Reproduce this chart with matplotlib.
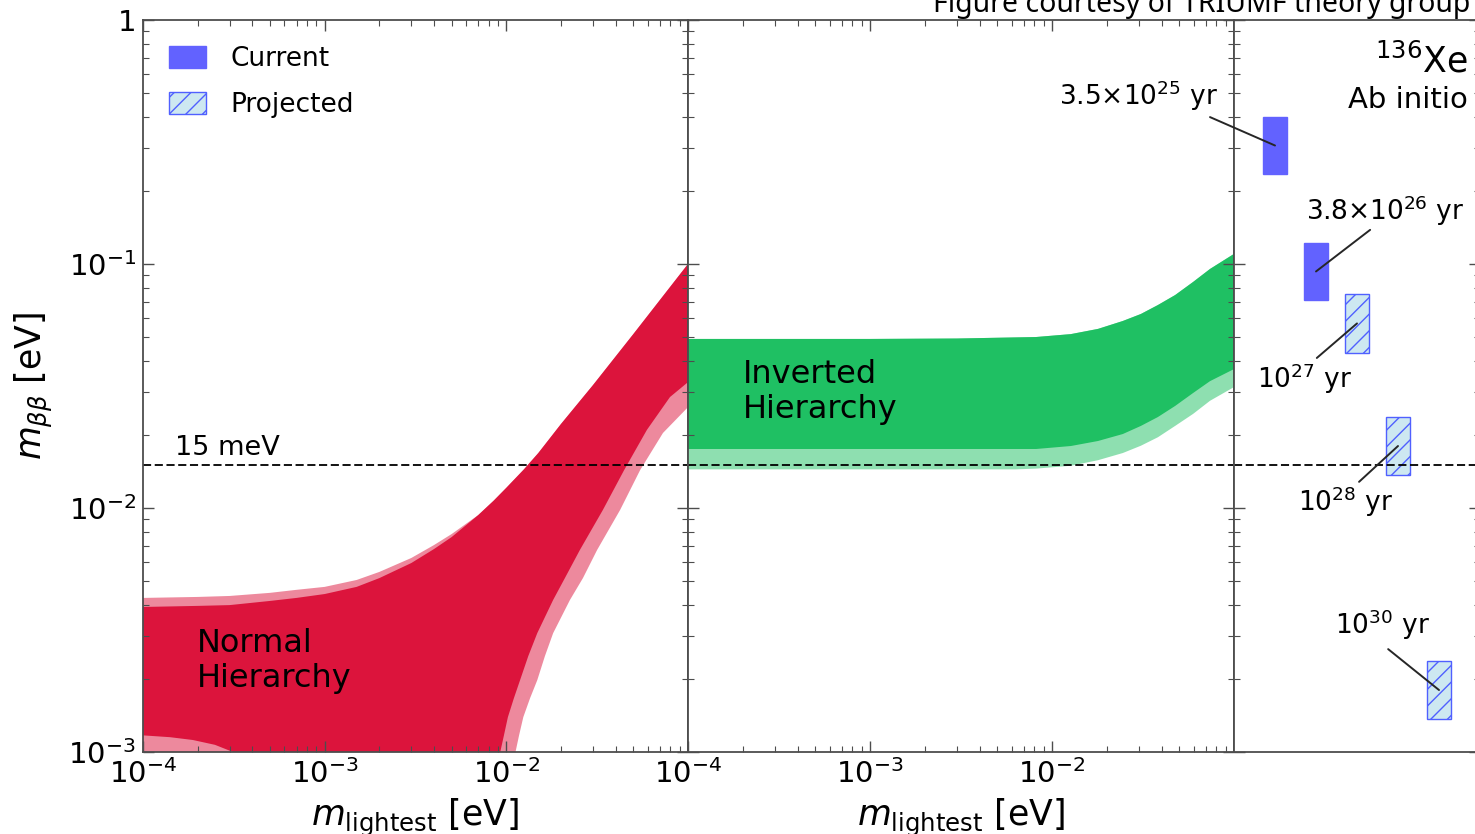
import matplotlib
matplotlib.use("Agg")
import matplotlib.pyplot as plt
from matplotlib.patches import Patch

# normal hierarchy band, upper edges
nh_up_x = [1e-4, 2e-4, 3e-4, 5e-4, 7e-4, 1e-3, 1.5e-3, 2e-3, 3e-3, 4e-3, 5e-3, 7e-3, 8.5e-3, 1e-2, 1.25e-2, 1.5e-2, 2e-2, 3e-2, 5e-2, 1e-1]
nh_up_dark = [3.93e-3, 3.97e-3, 4.00e-3, 4.16e-3, 4.28e-3, 4.44e-3, 4.75e-3, 5.16e-3, 5.95e-3, 6.79e-3, 7.60e-3, 9.35e-3, 1.07e-2, 1.21e-2, 1.44e-2, 1.68e-2, 2.21e-2, 3.19e-2, 5.16e-2, 1.0e-1]
nh_up_light = [4.28e-3, 4.32e-3, 4.36e-3, 4.49e-3, 4.62e-3, 4.75e-3, 5.07e-3, 5.47e-3, 6.24e-3, 7.05e-3, 7.82e-3, 9.35e-3, 1.07e-2, 1.21e-2, 1.44e-2, 1.68e-2, 2.21e-2, 3.19e-2, 5.16e-2, 1.0e-1]
# lower edges (1e-5 = drops to zero, below the axis)
nh_lo_dark_x = [1e-4, 1.41e-4, 1.88e-4, 2.49e-4, 3.13e-4, 3.6e-4, 4e-4, 8.9e-3, 9.05e-3,
	9.23e-3, 9.70e-3, 1.02e-2, 1.10e-2, 1.19e-2, 1.32e-2, 1.48e-2, 1.81e-2, 2.10e-2, 2.54e-2, 3.40e-2, 4.45e-2, 5.94e-2, 7.96e-2, 1e-1]
nh_lo_dark = [1.17e-3, 1.15e-3, 1.12e-3, 1.07e-3, 1.0e-3, 9e-4, 1e-5, 1e-5, 7e-4,
	9.9e-4, 1.17e-3, 1.39e-3, 1.66e-3, 1.97e-3, 2.47e-3, 3.07e-3, 4.20e-3, 5.16e-3, 6.73e-3, 9.82e-3, 1.43e-2, 2.09e-2, 2.85e-2, 3.28e-2]
nh_lo_light_x = [1e-4, 1.08e-2, 1.1e-2, 1.12e-2, 1.175e-2, 1.24e-2, 1.35e-2, 1.48e-2, 1.63e-2, 1.81e-2, 2.24e-2, 2.64e-2, 3.16e-2, 4.23e-2, 5.45e-2, 7.28e-2, 1e-1]
nh_lo_light = [1e-5, 1e-5, 7e-4, 9.9e-4, 1.17e-3, 1.39e-3, 1.66e-3, 1.97e-3, 2.47e-3, 3.07e-3, 4.20e-3, 5.16e-3, 6.73e-3, 9.82e-3, 1.43e-2, 2.03e-2, 2.59e-2]

# inverted hierarchy band
ih_top_x = [1e-4, 1e-3, 3e-3, 8.17e-3, 1.27e-2, 1.79e-2, 2.45e-2, 3.08e-2, 3.82e-2, 4.75e-2, 5.96e-2, 7.38e-2, 1e-1]
ih_top = [0.0493, 0.0493, 0.0495, 0.0502, 0.0516, 0.0542, 0.0584, 0.0624, 0.0679, 0.0746, 0.0844, 0.0954, 0.110]
ih_bot_dark_x = [1e-4, 1e-3, 8.17e-3, 1.27e-2, 1.79e-2, 2.45e-2, 3.08e-2, 3.82e-2, 4.75e-2, 5.96e-2, 7.38e-2, 1e-1]
ih_bot_dark = [0.01745, 0.01745, 0.01745, 0.01795, 0.01882, 0.0201, 0.0217, 0.0236, 0.0262, 0.0296, 0.0331, 0.0371]
ih_bot_light_x = [1e-4, 1e-3, 6.3e-3, 8.17e-3, 1.27e-2, 1.79e-2, 2.45e-2, 3.08e-2, 3.82e-2, 4.75e-2, 5.96e-2, 7.38e-2, 1e-1]
ih_bot_light = [0.0144, 0.0144, 0.0144, 0.0145, 0.0149, 0.0157, 0.0168, 0.0180, 0.0195, 0.0217, 0.0243, 0.0275, 0.0313]

# 136Xe sensitivities
bar_labels = ['3.5×10$^{25}$ yr', '3.8×10$^{26}$ yr', '10$^{27}$ yr', '10$^{28}$ yr', '10$^{30}$ yr']
bar_kind = ['current', 'current', 'projected', 'projected', 'projected']
bar_pos = [1, 2, 3, 4, 5]
bar_lo = [0.234, 0.0712, 0.0432, 0.01365, 0.001365]
bar_hi = [0.400, 0.122, 0.0754, 0.0236, 0.00236]

limit = 0.015  # 15 meV

CRIMSON = '#dc143c'
GREEN = '#1fc063'
CUR_COL = '#6262ff'
PROJ_FACE = '#cde8f1'
PROJ_EDGE = '#5060ff'
SPINE = '0.3'

fig = plt.figure(figsize=(14.75, 8.34), dpi=100)
ax1 = fig.add_axes([143/1475, 82/834, 545/1475, 732/834])
ax2 = fig.add_axes([688/1475, 82/834, 546/1475, 732/834])
ax3 = fig.add_axes([1234/1475, 82/834, 246/1475, 732/834])

def band(ax, upx, up, lox, lo, color, alpha):
	xs = list(upx) + list(lox)[::-1]
	ys = list(up) + list(lo)[::-1]
	ax.fill(xs, ys, color=color, alpha=alpha, lw=0)

#normal hierarchy
band(ax1, nh_up_x, nh_up_light, nh_lo_light_x, nh_lo_light, CRIMSON, 0.5)
band(ax1, nh_up_x, nh_up_dark, nh_lo_dark_x, nh_lo_dark, CRIMSON, 1.0)
ax1.text(1.98e-4, 2.36e-3, 'Normal\nHierarchy', fontsize=23, ha='left', va='center', linespacing=1.15)

#inverted hierarchy
band(ax2, ih_top_x, ih_top, ih_bot_light_x, ih_bot_light, GREEN, 0.5)
band(ax2, ih_top_x, ih_top, ih_bot_dark_x, ih_bot_dark, GREEN, 1.0)
ax2.text(2.0e-4, 0.0299, 'Inverted\nHierarchy', fontsize=23, ha='left', va='center', linespacing=1.15)

#bars
for p, lo, hi, kind in zip(bar_pos, bar_lo, bar_hi, bar_kind):
	if kind == 'current':
		ax3.bar(p, hi - lo, bottom=lo, width=0.58, color=CUR_COL, edgecolor=CUR_COL, lw=1)
	else:
		ax3.bar(p, hi - lo, bottom=lo, width=0.58, facecolor=PROJ_FACE, edgecolor=PROJ_EDGE, hatch='//', lw=1)

# label text positions and line starts (data coords of right panel)
lab_xy = [(-0.39, 0.416), (1.76, 0.1405), (0.56, 0.0397), (1.56, 0.01254), (2.46, 0.00282)]
lab_ha = ['right', 'left', 'left', 'left', 'left']
lab_va = ['bottom', 'bottom', 'top', 'top', 'bottom']
line_from = [(-0.585, 0.400), (3.32, 0.138), (2.02, 0.0412), (3.05, 0.0128), (3.76, 0.00264)]
for lab, (tx, ty), ha, va, (lx, ly), p, lo, hi in zip(bar_labels, lab_xy, lab_ha, lab_va, line_from, bar_pos, bar_lo, bar_hi):
	ax3.text(tx, ty, lab, fontsize=19, ha=ha, va=va, clip_on=False)
	ax3.annotate('', xy=(p, (lo*hi)**0.5), xytext=(lx, ly), annotation_clip=False,
		arrowprops=dict(arrowstyle='-', color='0.15', lw=1.4, shrinkA=0, shrinkB=0))

ax3.text(0.951, 0.928, r'$^{136}$Xe', fontsize=25, ha='right', va='baseline', transform=ax3.transAxes)
ax3.text(0.951, 0.880, 'Ab initio', fontsize=21, ha='right', va='baseline', transform=ax3.transAxes)

for ax in (ax1, ax2, ax3):
	ax.axhline(limit, color='k', ls='--', dashes=(4.5, 2), lw=1.3)
	ax.set_yscale('log')
	ax.set_ylim(1e-3, 1)
	ax.tick_params(which='both', direction='in', top=True, right=True, color=SPINE)
	ax.tick_params(which='major', length=8, width=1, labelsize=21, pad=5)
	ax.tick_params(which='minor', length=4, width=0.8)
	for s in ax.spines.values():
		s.set_color(SPINE)
		s.set_linewidth(1.3)

for ax in (ax1, ax2):
	ax.set_xscale('log')
	ax.set_xlim(1e-4, 1e-1)
	ax.set_xticks([1e-4, 1e-3, 1e-2, 1e-1])
	ax.set_xticklabels([r'$\mathdefault{10^{-4}}$', r'$\mathdefault{10^{-3}}$', r'$\mathdefault{10^{-2}}$', ''])
	ax.set_xlabel(r'$m_{\rm lightest}$ [eV]', fontsize=25)
	ax.xaxis.set_label_coords(0.5, -0.061)

ax1.set_yticks([1e-3, 1e-2, 1e-1, 1])
ax1.set_yticklabels([r'$\mathdefault{10^{-3}}$', r'$\mathdefault{10^{-2}}$', r'$\mathdefault{10^{-1}}$', '1'])
ax1.set_ylabel(r'$m_{\beta\beta}$ [eV]', fontsize=25)
ax1.yaxis.set_label_coords(-0.161, 0.5)
ax2.tick_params(axis='y', which='both', labelleft=False)
ax3.tick_params(axis='y', which='both', labelleft=False)
ax3.set_xlim(0, 6)
ax3.set_xticks([])
ax3.tick_params(axis='x', which='both', bottom=False, top=False)

ax1.text(1.5e-4, 0.0156, '15 meV', fontsize=19.5, ha='left', va='bottom')

handles = [Patch(facecolor=CUR_COL, edgecolor=CUR_COL, label='Current'),
	Patch(facecolor=PROJ_FACE, edgecolor=PROJ_EDGE, hatch='//', label='Projected')]
ax1.legend(handles=handles, loc='upper left', frameon=False, fontsize=19, handlelength=1.4,
	handleheight=0.9, handletextpad=0.9, labelspacing=0.75, borderaxespad=0.6)

fig.text(0.9966, 0.9856, 'Figure courtesy of TRIUMF theory group', fontsize=20.5,
	family='Noto Sans', ha='right', va='baseline')

plt.savefig('out.png', dpi=100)
